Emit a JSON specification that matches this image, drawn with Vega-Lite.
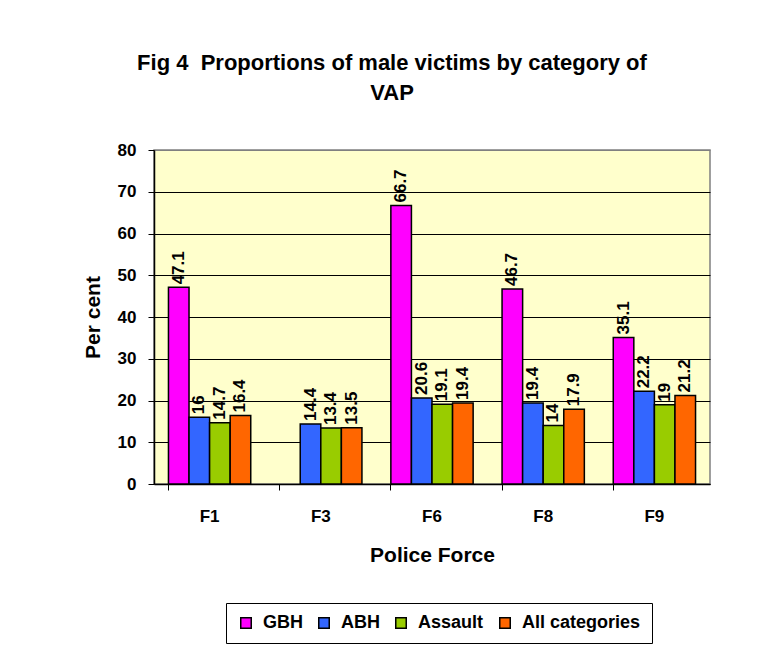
{
  "$schema": "https://vega.github.io/schema/vega-lite/v6.json",
  "width": 556,
  "height": 334,
  "autosize": {"type": "none"},
  "padding": {"left": 154, "top": 150, "right": 51, "bottom": 182},
  "background": "white",
  "title": {
    "text": ["Fig 4\u00a0 Proportions of male victims by category of", "VAP"],
    "font": "Liberation Sans",
    "fontSize": 22,
    "fontWeight": "bold",
    "color": "black",
    "lineHeight": 30,
    "offset": 36,
    "dx": -40,
    "anchor": "middle"
  },
  "data": {
    "values": [
      {"force": "F1", "cat": "GBH", "value": 47.1},
      {"force": "F1", "cat": "ABH", "value": 16},
      {"force": "F1", "cat": "Assault", "value": 14.7},
      {"force": "F1", "cat": "All categories", "value": 16.4},
      {"force": "F3", "cat": "ABH", "value": 14.4},
      {"force": "F3", "cat": "Assault", "value": 13.4},
      {"force": "F3", "cat": "All categories", "value": 13.5},
      {"force": "F6", "cat": "GBH", "value": 66.7},
      {"force": "F6", "cat": "ABH", "value": 20.6},
      {"force": "F6", "cat": "Assault", "value": 19.1},
      {"force": "F6", "cat": "All categories", "value": 19.4},
      {"force": "F8", "cat": "GBH", "value": 46.7},
      {"force": "F8", "cat": "ABH", "value": 19.4},
      {"force": "F8", "cat": "Assault", "value": 14},
      {"force": "F8", "cat": "All categories", "value": 17.9},
      {"force": "F9", "cat": "GBH", "value": 35.1},
      {"force": "F9", "cat": "ABH", "value": 22.2},
      {"force": "F9", "cat": "Assault", "value": 19},
      {"force": "F9", "cat": "All categories", "value": 21.2}
    ]
  },
  "config": {
    "font": "Liberation Sans",
    "view": {"fill": "#FFFFCC", "stroke": "#808080", "strokeWidth": 1.5},
    "legend": {"strokeColor": "black"}
  },
  "layer": [
    {
      "mark": {"type": "bar", "stroke": "black", "strokeWidth": 1.5},
      "encoding": {
        "x": {
          "field": "force",
          "type": "nominal",
          "sort": ["F1", "F3", "F6", "F8", "F9"],
          "scale": {"paddingInner": 0.26, "paddingOuter": 0.13},
          "axis": {
            "orient": "bottom",
            "title": "Police Force",
            "labelAngle": 0,
            "ticks": false,
            "grid": false,
            "labelPadding": 24,
            "labelFont": "Liberation Sans",
            "labelFontSize": 17,
            "labelFontWeight": "bold",
            "labelColor": "black",
            "titleFont": "Liberation Sans",
            "titleFontSize": 21,
            "titleFontWeight": "bold",
            "titleColor": "black",
            "titlePadding": 20,
            "domainColor": "black",
            "domainWidth": 1.5
          }
        },
        "xOffset": {
          "field": "cat",
          "type": "nominal",
          "sort": ["GBH", "ABH", "Assault", "All categories"]
        },
        "y": {
          "field": "value",
          "type": "quantitative",
          "scale": {"domain": [0, 80]},
          "axis": {
            "title": "Per cent",
            "values": [0, 10, 20, 30, 40, 50, 60, 70, 80],
            "grid": true,
            "gridColor": {"condition": {"test": "datum.value == 80", "value": "#808080"}, "value": "black"},
            "gridWidth": 1,
            "gridOpacity": 1,
            "tickColor": "black",
            "tickSize": 6,
            "labelPadding": 12,
            "labelFont": "Liberation Sans",
            "labelFontSize": 17,
            "labelFontWeight": "bold",
            "labelColor": "black",
            "titleFont": "Liberation Sans",
            "titleFontSize": 21,
            "titleFontWeight": "bold",
            "titleColor": "black",
            "titlePadding": 14,
            "domainColor": "black",
            "domainWidth": 1.5
          }
        },
        "color": {
          "field": "cat",
          "type": "nominal",
          "sort": ["GBH", "ABH", "Assault", "All categories"],
          "scale": {
            "domain": ["GBH", "ABH", "Assault", "All categories"],
            "range": ["#FF00FF", "#3366FF", "#99CC00", "#FF6600"]
          },
          "legend": {
            "orient": "none",
            "legendX": 72,
            "legendY": 453,
            "direction": "horizontal",
            "title": null,
            "padding": 11,
            "symbolType": "square",
            "symbolSize": 110,
            "symbolStrokeColor": "black",
            "symbolStrokeWidth": 1.5,
            "symbolOpacity": 1,
            "labelFont": "Liberation Sans",
            "labelFontSize": 18,
            "labelFontWeight": "bold",
            "labelColor": "black",
            "labelOffset": 8,
            "columnPadding": 12
          }
        }
      }
    },
    {
      "mark": {
        "type": "text",
        "angle": 270,
        "align": "left",
        "baseline": "middle",
        "dx": 3,
        "font": "Liberation Sans",
        "fontSize": 17,
        "fontWeight": "bold",
        "color": "black"
      },
      "encoding": {
        "x": {
          "field": "force",
          "type": "nominal",
          "sort": ["F1", "F3", "F6", "F8", "F9"],
          "axis": {
            "orient": "bottom",
            "bandPosition": 0,
            "labels": false,
            "title": null,
            "domain": false,
            "grid": false,
            "ticks": true,
            "tickSize": 6,
            "tickColor": "black"
          }
        },
        "xOffset": {
          "field": "cat",
          "type": "nominal",
          "sort": ["GBH", "ABH", "Assault", "All categories"]
        },
        "y": {"field": "value", "type": "quantitative"},
        "text": {"field": "value", "type": "quantitative"}
      }
    }
  ],
  "resolve": {"axis": {"x": "independent"}}
}
